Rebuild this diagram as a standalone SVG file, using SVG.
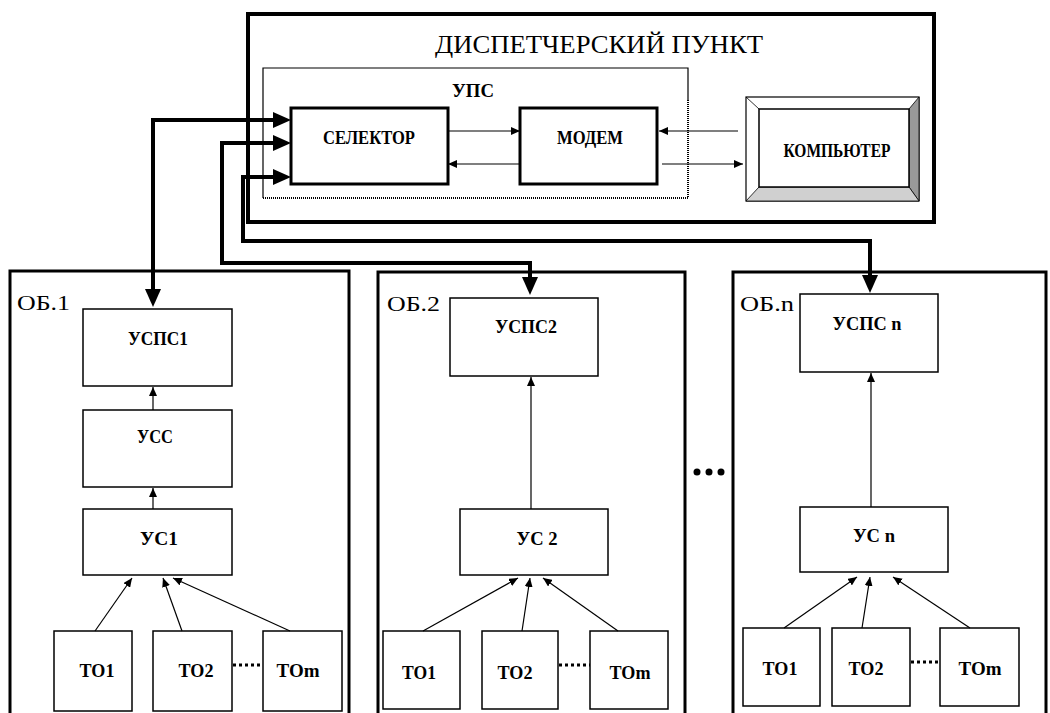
<svg xmlns="http://www.w3.org/2000/svg" width="1050" height="713" viewBox="0 0 1050 713">
<style>
.t{font-family:"Liberation Serif","Times New Roman",serif;fill:#000}
.b{font-weight:bold;font-size:18px;text-anchor:middle}
.ob{font-size:21px}
.box{fill:#fff;stroke:#000;stroke-width:1.5}
.mbox{fill:#fff;stroke:#000;stroke-width:3}
.obox{fill:none;stroke:#000;stroke-width:3}
.thin{fill:none;stroke:#000;stroke-width:1.2}
.bus{fill:none;stroke:#000;stroke-width:4;stroke-linejoin:miter}
.dots{stroke:#000;stroke-width:3;stroke-dasharray:3 3}
</style>
<defs>
<marker id="a" viewBox="0 0 9 8" refX="9" refY="4" markerWidth="9" markerHeight="8" markerUnits="userSpaceOnUse" orient="auto"><path d="M0,0 L9,4 L0,8 z" fill="#000"/></marker>
<marker id="A" viewBox="0 0 18 16" refX="8" refY="8" markerWidth="18" markerHeight="16" markerUnits="userSpaceOnUse" orient="auto"><path d="M0,0 L18,8 L0,16 z" fill="#000"/></marker>
</defs>
<rect width="1050" height="713" fill="#fff"/>

<g id="dispatcher">
<rect x="248" y="14" width="686" height="208" fill="#fff" stroke="#000" stroke-width="4"/>
<text class="t" x="599" y="53" font-size="26" text-anchor="middle" textLength="328" lengthAdjust="spacingAndGlyphs">ДИСПЕТЧЕРСКИЙ ПУНКТ</text>
</g>

<g id="ups">
<path d="M263,198 V68 H688 V100" fill="none" stroke="#000" stroke-width="1.2"/>
<path d="M688,100 V198 H263" fill="none" stroke="#000" stroke-width="2" stroke-dasharray="1 1"/>
<text class="t b" x="473" y="97" font-size="19" textLength="42" lengthAdjust="spacingAndGlyphs">УПС</text>
</g>

<g id="selector">
<rect class="mbox" x="291" y="108" width="157" height="76"/>
<text class="t b" x="369" y="144" textLength="92" lengthAdjust="spacingAndGlyphs">СЕЛЕКТОР</text>
</g>

<g id="modem">
<rect class="mbox" x="520" y="108" width="137" height="76"/>
<text class="t b" x="590" y="144" textLength="66" lengthAdjust="spacingAndGlyphs">МОДЕМ</text>
</g>

<g id="computer">
<rect x="746" y="97" width="173" height="104" fill="#fff" stroke="#000" stroke-width="1.2"/>
<polygon points="909,109 919,97 919,201 909,187" fill="#999" stroke="#000" stroke-width="0.8"/>
<polygon points="759,187 909,187 919,201 746,201" fill="#d0d0d0" stroke="#000" stroke-width="0.8"/>
<line x1="746" y1="97" x2="759" y2="109" stroke="#000" stroke-width="0.8"/>
<rect x="759" y="109" width="150" height="78" fill="#fff" stroke="#000" stroke-width="1.5"/>
<text class="t b" x="837" y="157" font-size="16" textLength="107" lengthAdjust="spacingAndGlyphs">КОМПЬЮТЕР</text>
</g>

<g id="ob1">
<rect class="obox" x="10" y="271" width="339" height="450"/>
<text class="t ob" x="17" y="310" textLength="53" lengthAdjust="spacingAndGlyphs">ОБ.1</text>
<rect class="box" x="83" y="309" width="149" height="77"/>
<text class="t b" x="158" y="345" textLength="60" lengthAdjust="spacingAndGlyphs">УСПС1</text>
<rect class="box" x="83" y="410" width="149" height="77"/>
<text class="t b" x="155" y="443" textLength="36" lengthAdjust="spacingAndGlyphs">УСС</text>
<rect class="box" x="83" y="509" width="149" height="66"/>
<text class="t b" x="159" y="545" textLength="38" lengthAdjust="spacingAndGlyphs">УС1</text>
<rect class="box" x="54" y="631" width="78" height="80"/>
<text class="t b" x="97" y="677" textLength="35" lengthAdjust="spacingAndGlyphs">ТО1</text>
<rect class="box" x="153" y="631" width="79" height="80"/>
<text class="t b" x="196" y="677" textLength="35" lengthAdjust="spacingAndGlyphs">ТО2</text>
<rect class="box" x="263" y="631" width="79" height="80"/>
<text class="t b" x="298" y="677" textLength="43" lengthAdjust="spacingAndGlyphs">ТОm</text>
</g>

<g id="ob2">
<rect class="obox" x="378" y="272" width="307" height="450"/>
<text class="t ob" x="387" y="311" textLength="53" lengthAdjust="spacingAndGlyphs">ОБ.2</text>
<rect class="box" x="450" y="298" width="148" height="78"/>
<text class="t b" x="526" y="333" textLength="62" lengthAdjust="spacingAndGlyphs">УСПС2</text>
<rect class="box" x="460" y="509" width="148" height="66"/>
<text class="t b" x="537" y="545" textLength="41" lengthAdjust="spacingAndGlyphs">УС 2</text>
<rect class="box" x="383" y="631" width="77" height="78"/>
<text class="t b" x="419" y="679" textLength="34" lengthAdjust="spacingAndGlyphs">ТО1</text>
<rect class="box" x="482" y="631" width="76" height="78"/>
<text class="t b" x="515" y="679" textLength="35" lengthAdjust="spacingAndGlyphs">ТО2</text>
<rect class="box" x="590" y="631" width="78" height="78"/>
<text class="t b" x="630" y="679" textLength="41" lengthAdjust="spacingAndGlyphs">ТОm</text>
</g>

<g id="obn">
<rect class="obox" x="733" y="272" width="313" height="450"/>
<text class="t ob" x="740" y="311" textLength="54" lengthAdjust="spacingAndGlyphs">ОБ.n</text>
<rect class="box" x="800" y="294" width="138" height="78"/>
<text class="t b" x="867" y="330" textLength="69" lengthAdjust="spacingAndGlyphs">УСПС n</text>
<rect class="box" x="800" y="507" width="148" height="65"/>
<text class="t b" x="874" y="542" textLength="42" lengthAdjust="spacingAndGlyphs">УС n</text>
<rect class="box" x="743" y="628" width="77" height="78"/>
<text class="t b" x="780" y="675" textLength="35" lengthAdjust="spacingAndGlyphs">ТО1</text>
<rect class="box" x="832" y="628" width="78" height="78"/>
<text class="t b" x="866" y="675" textLength="35" lengthAdjust="spacingAndGlyphs">ТО2</text>
<rect class="box" x="940" y="628" width="79" height="78"/>
<text class="t b" x="980" y="675" textLength="43" lengthAdjust="spacingAndGlyphs">ТОm</text>
</g>

<g id="ellipsis">
<circle cx="697" cy="472" r="3.5"/>
<circle cx="709" cy="472" r="3.5"/>
<circle cx="721" cy="472" r="3.5"/>
</g>

<g id="connectors">
<line class="thin" x1="448" y1="131" x2="520" y2="131" marker-end="url(#a)"/>
<line class="thin" x1="520" y1="164" x2="448" y2="164" marker-end="url(#a)"/>
<line class="thin" x1="738" y1="131" x2="659" y2="131" marker-end="url(#a)"/>
<line class="thin" x1="662" y1="164" x2="743" y2="164" marker-end="url(#a)"/>
<path class="bus" d="M153,120 H281" marker-end="url(#A)"/>
<path class="bus" d="M153,118 V297" marker-end="url(#A)"/>
<path class="bus" d="M222,143 H281" marker-end="url(#A)"/>
<path class="bus" d="M222,141 V263 H530 V285" marker-end="url(#A)"/>
<path class="bus" d="M243,177 H281" marker-end="url(#A)"/>
<path class="bus" d="M243,175 V241 H870 V283" marker-end="url(#A)"/>
<line class="thin" x1="153" y1="410" x2="153" y2="387" marker-end="url(#a)"/>
<line class="thin" x1="153" y1="509" x2="153" y2="488" marker-end="url(#a)"/>
<line class="thin" x1="95" y1="631" x2="132" y2="578" marker-end="url(#a)"/>
<line class="thin" x1="182" y1="631" x2="163" y2="578" marker-end="url(#a)"/>
<line class="thin" x1="290" y1="631" x2="173" y2="578" marker-end="url(#a)"/>
<line class="dots" x1="233" y1="665" x2="263" y2="665"/>
<line class="thin" x1="531" y1="509" x2="531" y2="377" marker-end="url(#a)"/>
<line class="thin" x1="423" y1="631" x2="518" y2="578" marker-end="url(#a)"/>
<line class="thin" x1="522" y1="631" x2="530" y2="578" marker-end="url(#a)"/>
<line class="thin" x1="618" y1="631" x2="543" y2="578" marker-end="url(#a)"/>
<line class="dots" x1="559" y1="665" x2="590" y2="665"/>
<line class="thin" x1="871" y1="507" x2="871" y2="373" marker-end="url(#a)"/>
<line class="thin" x1="784" y1="628" x2="857" y2="577" marker-end="url(#a)"/>
<line class="thin" x1="862" y1="628" x2="870" y2="577" marker-end="url(#a)"/>
<line class="thin" x1="970" y1="628" x2="893" y2="577" marker-end="url(#a)"/>
<line class="dots" x1="911" y1="662" x2="940" y2="662"/>
</g>
</svg>
